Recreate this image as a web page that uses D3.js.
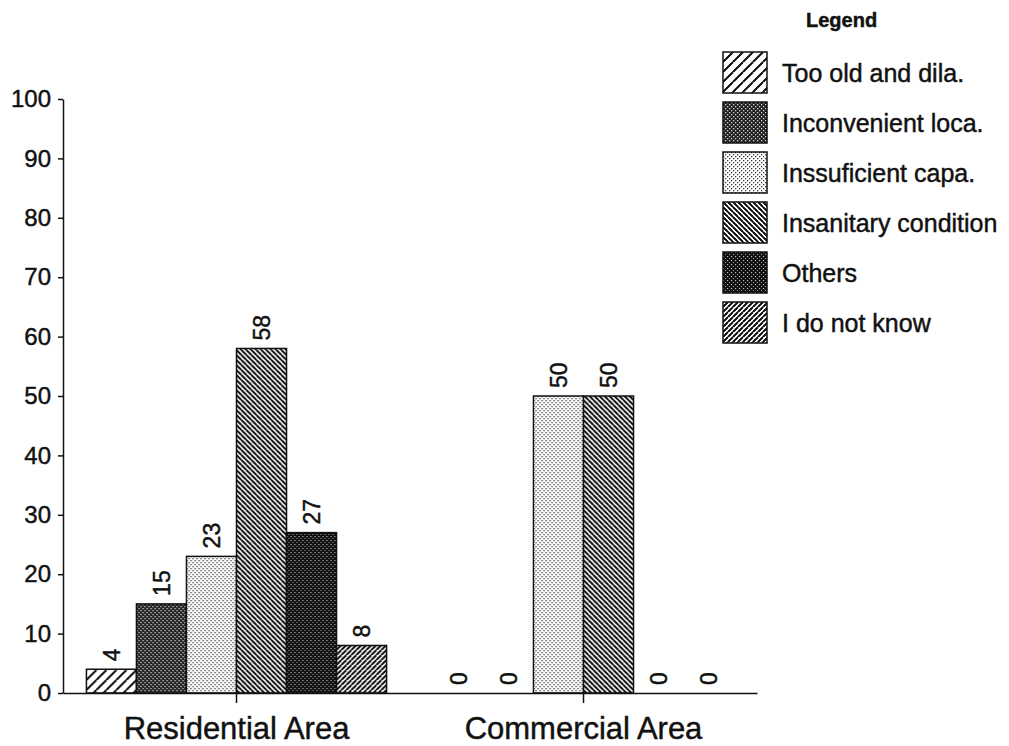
<!DOCTYPE html>
<html>
<head>
<meta charset="utf-8">
<script src="https://cdn.jsdelivr.net/npm/d3@7"></script>
<style>
  html, body { margin: 0; padding: 0; background: #fff; }
  svg { display: block; font-family: "Liberation Sans", Arial, Helvetica, sans-serif; }
  svg text { stroke: #111; stroke-width: 0.45px; paint-order: stroke; }
</style>
</head>
<body>
<svg id="chart" width="1009" height="746"></svg>
<script>
// Survey: reasons for dissatisfaction, by area (percent of respondents)
const categories = ["Residential Area", "Commercial Area"];
const seriesNames = [
  "Too old and dila.",
  "Inconvenient loca.",
  "Inssuficient capa.",
  "Insanitary condition",
  "Others",
  "I do not know"
];
const residentialValues = [4, 15, 23, 58, 27, 8];
const commercialValues = [0, 0, 50, 50, 0, 0];
const yTickValues = [0, 10, 20, 30, 40, 50, 60, 70, 80, 90, 100];

const rows = categories.map((c, i) => ({
  category: c,
  values: (i === 0 ? residentialValues : commercialValues)
    .map((v, j) => ({ series: seriesNames[j], value: v }))
}));

const svg = d3.select("#chart");
const ink = "#111";

// ---- fill patterns (one per series) ----
const defs = svg.append("defs");
const patternIds = ["pOld", "pLoc", "pCap", "pSan", "pOth", "pDnk"];

function hatch(id, size, dir, width) {
  const p = defs.append("pattern").attr("id", id)
    .attr("patternUnits", "userSpaceOnUse")
    .attr("width", size).attr("height", size);
  p.append("rect").attr("width", size).attr("height", size).attr("fill", "#fff");
  const s = size;
  const segs = dir > 0
    ? [[0, s, s, 0], [-s, s, 0, 0], [s, s * 2, s * 2, s], [0, s * 2, s * 2, 0], [-s, s * 2, s, 0]]
    : [[0, 0, s, s], [-s, 0, s, s * 2], [0, -s, s * 2, s], [-s, -s, s * 2, s * 2]];
  segs.forEach(([x1, y1, x2, y2]) => {
    p.append("line").attr("x1", x1).attr("y1", y1).attr("x2", x2).attr("y2", y2)
      .attr("stroke", ink).attr("stroke-width", width);
  });
}
function stipple(id, bg, dots, dotColor, size) {
  const p = defs.append("pattern").attr("id", id)
    .attr("patternUnits", "userSpaceOnUse")
    .attr("width", size).attr("height", size);
  p.append("rect").attr("width", size).attr("height", size).attr("fill", bg);
  dots.forEach(([x, y, w]) => {
    p.append("rect").attr("x", x).attr("y", y).attr("width", w).attr("height", w)
      .attr("fill", dotColor);
  });
}

hatch("pOld", 10, 1, 1.7);                                            // sparse forward hatch
stipple("pLoc", "#1e1e1e", [[0, 0, 1.3], [2, 2, 1.3]], "#d8d8d8", 4); // dark checker
stipple("pCap", "#fff", [[0, 0, 1.3], [2, 2, 1.3]], "#3a3a3a", 4);    // light dots
hatch("pSan", 5, -1, 1.6);                                            // dense back hatch
stipple("pOth", "#111", [[0, 0, 1.1], [2, 2, 0.9]], "#c4c4c4", 4);    // darker stipple
hatch("pDnk", 5, 1, 1.6);                                             // dense forward hatch

// ---- scales ----
const x0 = d3.scaleBand().domain(categories).range([63, 757])
  .paddingInner(0.135).paddingOuter(0.0675);
const x1 = d3.scaleBand().domain(seriesNames).range([0, x0.bandwidth()]).padding(0);
const y = d3.scaleLinear().domain([0, 100]).range([693, 99]);
const fillOf = d3.scaleOrdinal().domain(seriesNames).range(patternIds.map(id => `url(#${id})`));

// ---- bars ----
const groups = svg.append("g").selectAll("g").data(rows).join("g")
  .attr("transform", d => `translate(${x0(d.category)},0)`);

groups.selectAll("rect").data(d => d.values).join("rect")
  .attr("x", d => x1(d.series))
  .attr("y", d => y(d.value))
  .attr("width", x1.bandwidth())
  .attr("height", d => y(0) - y(d.value))
  .attr("fill", d => fillOf(d.series))
  .attr("stroke", ink)
  .attr("stroke-width", 1.5);

// ---- value labels (rotated) ----
groups.selectAll("text").data(d => d.values).join("text")
  .attr("transform", d => `translate(${x1(d.series) + x1.bandwidth() / 2},${y(d.value) - 8}) rotate(-90)`)
  .attr("dy", "0.36em")
  .attr("text-anchor", "start")
  .attr("font-size", 23)
  .attr("fill", ink)
  .text(d => d.value);

// ---- axes ----
const yAxis = svg.append("g").attr("transform", "translate(63,0)")
  .call(d3.axisLeft(y).tickValues(yTickValues).tickSize(5).tickSizeOuter(0).tickPadding(7));
yAxis.selectAll("text").attr("font-size", 24).attr("fill", ink)
  .attr("font-family", "Liberation Sans, Arial, sans-serif");
yAxis.selectAll("line, path").attr("stroke", ink).attr("stroke-width", 1.5);

const xAxis = svg.append("g").attr("transform", "translate(0,693)")
  .call(d3.axisBottom(x0).tickSize(10).tickSizeOuter(0).tickPadding(14));
xAxis.selectAll("text").attr("font-size", 31).attr("fill", ink)
  .attr("font-family", "Liberation Sans, Arial, sans-serif");
xAxis.selectAll("line, path").attr("stroke", ink).attr("stroke-width", 1.5);

// ---- legend ----
const legend = svg.append("g");
legend.append("text").attr("x", 806).attr("y", 27)
  .attr("font-size", 20).attr("font-weight", "bold").attr("fill", ink).text("Legend");

const items = legend.selectAll("g.item").data(seriesNames).join("g")
  .attr("class", "item")
  .attr("transform", (d, i) => `translate(723,${52 + i * 50})`);
items.append("rect").attr("width", 44).attr("height", 41)
  .attr("fill", d => fillOf(d)).attr("stroke", ink).attr("stroke-width", 1.5);
items.append("text").attr("x", 59).attr("y", 21).attr("dy", "0.35em")
  .attr("font-size", 25).attr("fill", ink).text(d => d);
</script>
</body>
</html>
